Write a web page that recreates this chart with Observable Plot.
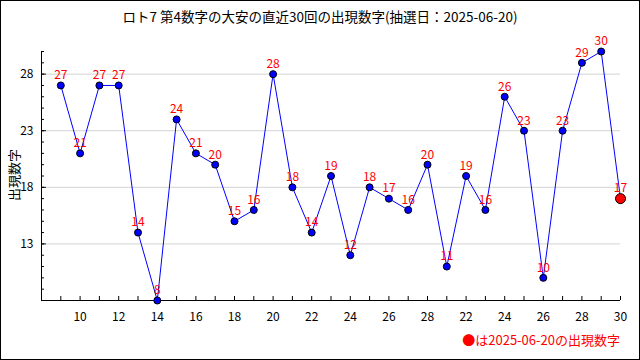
<!DOCTYPE html>
<html>
<head>
<meta charset="utf-8">
<script src="https://cdn.jsdelivr.net/npm/d3@7"></script>
<script src="https://cdn.jsdelivr.net/npm/@observablehq/plot@0.6"></script>
<style>
  body { margin: 0; background: #fff; }
  #wrap { position: relative; width: 640px; height: 360px; overflow: hidden; background: #fff; }
  #frame { position: absolute; left: 0; top: 0; width: 640px; height: 360px; box-sizing: border-box; border: 1px solid #000; pointer-events: none; }
  #chart { position: absolute; left: 0; top: 0; }
  #title { position: absolute; top: 9px; left: 0; width: 640px; text-align: center; font: 13.5px/15px "Noto Sans CJK JP", sans-serif; color: #000; white-space: nowrap; }
  #ylabel { position: absolute; left: 13px; top: 175px; transform: translate(-50%, -50%) rotate(-90deg); font: 13px/15px "Noto Sans CJK JP", sans-serif; color: #000; white-space: nowrap; }
  #legend { position: absolute; right: 20px; top: 332px; font: 13px/15px "Noto Sans CJK JP", sans-serif; color: #ff0000; white-space: nowrap; }
</style>
</head>
<body>
<div id="wrap">
  <div id="chart"></div>
  <div id="title"></div>
  <div id="ylabel"></div>
  <div id="legend"></div>
  <div id="frame"></div>
</div>
<script>
const titleText = "ロト7 第4数字の大安の直近30回の出現数字(抽選日：2025-06-20)";
const yLabelText = "出現数字";
const latestDate = "2025-06-20";
const legendText = "●は" + latestDate + "の出現数字";

const values = [27, 21, 27, 27, 14, 8, 24, 21, 20, 15, 16, 28, 18, 14, 19, 12, 18, 17, 16, 20, 11, 19, 16, 26, 23, 10, 23, 29, 30, 17];
const xTickPositions = [1, 3, 5, 7, 9, 11, 13, 15, 17, 19, 21, 23, 25, 27, 29];
const xTickLabels = ["10", "12", "14", "16", "18", "20", "22", "24", "26", "28", "22", "24", "26", "28", "30"];
const yMajorTicks = [13, 18, 23, 28];
const yDomain = [8, 30];
const xDomain = [-1, values.length - 1];

document.getElementById("title").textContent = titleText;
document.getElementById("ylabel").textContent = yLabelText;
document.getElementById("legend").textContent = legendText;

const data = values.map((v, i) => ({ i, v, latest: i === values.length - 1 }));
const numFont = '"Liberation Sans Narrow", "Noto Sans CJK JP", sans-serif';

const chart = Plot.plot({
  width: 640,
  height: 360,
  marginLeft: 41,
  marginRight: 20,
  marginTop: 51,
  marginBottom: 60,
  style: { fontFamily: numFont, fontSize: "12px", background: "transparent", color: "#000" },
  x: { domain: xDomain, axis: null, label: null },
  y: { domain: yDomain, axis: null, label: null },
  marks: [
    Plot.ruleY(yMajorTicks, { x1: xDomain[0], x2: xDomain[1], stroke: "#d3d3d3", strokeWidth: 1, insetLeft: 5 }),
    Plot.ruleX([xDomain[0]], { stroke: "#000", strokeWidth: 1 }),
    Plot.ruleY([yDomain[0]], { stroke: "#000", strokeWidth: 1 }),
    Plot.axisY(d3.range(yDomain[0] + 1, yDomain[1] + 1), { tickSize: -3, text: null, label: null, stroke: "#000" }),
    Plot.axisY(yMajorTicks, { tickSize: -5, text: null, label: null, stroke: "#000" }),
    Plot.axisY(yMajorTicks, { tickSize: 0, tickPadding: 8, label: null, fontSize: 12, fill: "#000" }),
    Plot.axisX(d3.range(0, values.length), { tickSize: -4, text: null, label: null, stroke: "#000" }),
    Plot.axisX(xTickPositions, { tickSize: 0, tickPadding: 12, label: null, fontSize: 12, fill: "#000",
      tickFormat: d => xTickLabels[xTickPositions.indexOf(d)] }),
    Plot.line(data, { x: "i", y: "v", stroke: "#0000ff", strokeWidth: 1 }),
    Plot.dot(data.filter(d => !d.latest), { x: "i", y: "v", r: 3.5, fill: "#0000ff", stroke: "#000", strokeWidth: 1 }),
    Plot.dot(data.filter(d => d.latest), { x: "i", y: "v", r: 5, fill: "#ff0000", stroke: "#000", strokeWidth: 1 }),
    Plot.text(data, { x: "i", y: "v", text: d => String(d.v), dy: -10, fill: "#ff0000", fontSize: 12 })
  ]
});
document.getElementById("chart").appendChild(chart);
</script>
</body>
</html>
